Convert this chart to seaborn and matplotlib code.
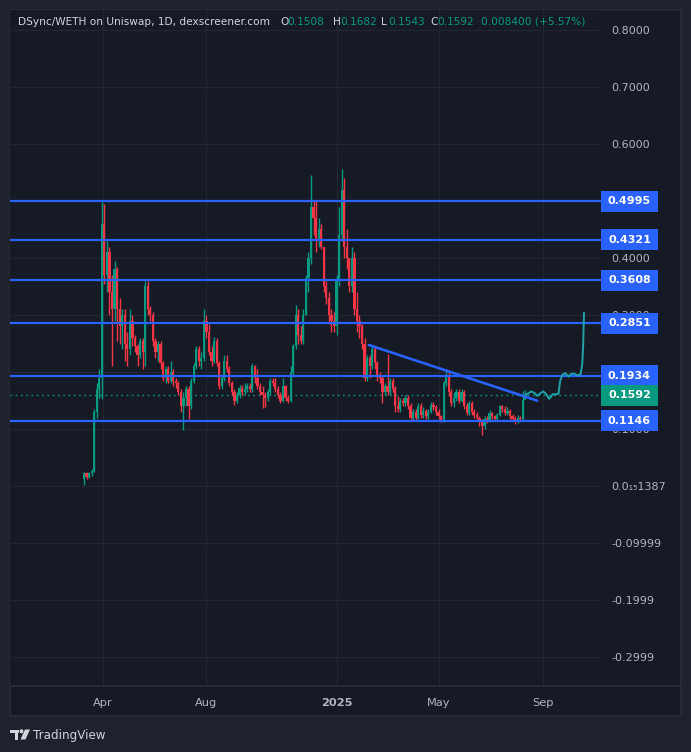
import numpy as np
import pandas as pd
import matplotlib
matplotlib.use("Agg")
import matplotlib.pyplot as plt
import matplotlib.dates as mdates
import matplotlib.patches as mpatches
import matplotlib.lines as mlines
import matplotlib.transforms as mtransforms
import seaborn as sns

# ---------------- data ----------------
title_text = "DSync/WETH on Uniswap, 1D, dexscreener.com"
ohlc_keys = ["O", "H", "L", "C"]
ohlc_vals = ["0.1508", "0.1682", "0.1543", "0.1592"]
change_text = "0.008400 (+5.57%)"

candle_start = "2024-03-10"
candle_end = "2025-08-11"

opens = [0.012, 0.022, 0.016, 0.022, 0.026, 0.130, 0.170, 0.190, 0.460, 0.370,
         0.410, 0.340, 0.310, 0.380, 0.310, 0.280, 0.300, 0.250, 0.240, 0.290,
         0.260, 0.245, 0.230, 0.255, 0.235, 0.350, 0.310, 0.300, 0.255, 0.235,
         0.250, 0.215, 0.190, 0.205, 0.185, 0.200, 0.185, 0.180, 0.165, 0.140,
         0.155, 0.170, 0.140, 0.185, 0.210, 0.240, 0.220, 0.225, 0.290, 0.270,
         0.235, 0.220, 0.255, 0.215, 0.175, 0.190, 0.220, 0.205, 0.180, 0.165,
         0.150, 0.160, 0.172, 0.165, 0.170, 0.175, 0.170, 0.210, 0.190, 0.175,
         0.165, 0.160, 0.155, 0.165, 0.185, 0.180, 0.170, 0.160, 0.150, 0.175,
         0.155, 0.150, 0.200, 0.245, 0.300, 0.265, 0.255, 0.300, 0.365, 0.400,
         0.490, 0.470, 0.430, 0.450, 0.420, 0.350, 0.330, 0.300, 0.290, 0.280,
         0.360, 0.440, 0.520, 0.420, 0.400, 0.350, 0.400, 0.310, 0.290, 0.280,
         0.250, 0.190, 0.225, 0.210, 0.240, 0.215, 0.195, 0.190, 0.165, 0.175,
         0.165, 0.185, 0.170, 0.140, 0.135, 0.150, 0.145, 0.155, 0.140, 0.120,
         0.130, 0.120, 0.140, 0.125, 0.132, 0.122, 0.130, 0.143, 0.138, 0.130,
         0.122, 0.115, 0.180, 0.195, 0.165, 0.145, 0.155, 0.165, 0.150, 0.165,
         0.140, 0.128, 0.145, 0.130, 0.125, 0.120, 0.112, 0.105, 0.118, 0.115,
         0.128, 0.122, 0.118, 0.125, 0.140, 0.135, 0.128, 0.132, 0.122, 0.118,
         0.112, 0.120, 0.117, 0.1508]
highs = [0.025, 0.024, 0.025, 0.030, 0.135, 0.180, 0.205, 0.499, 0.495, 0.430,
         0.420, 0.370, 0.395, 0.385, 0.330, 0.310, 0.310, 0.270, 0.310, 0.300,
         0.265, 0.250, 0.260, 0.260, 0.360, 0.360, 0.315, 0.305, 0.260, 0.255,
         0.255, 0.220, 0.210, 0.210, 0.220, 0.205, 0.190, 0.185, 0.170, 0.165,
         0.175, 0.175, 0.190, 0.215, 0.245, 0.245, 0.235, 0.310, 0.300, 0.285,
         0.245, 0.262, 0.260, 0.220, 0.195, 0.230, 0.230, 0.210, 0.185, 0.170,
         0.165, 0.178, 0.178, 0.180, 0.180, 0.180, 0.215, 0.212, 0.205, 0.180,
         0.175, 0.165, 0.170, 0.190, 0.190, 0.190, 0.175, 0.165, 0.190, 0.178,
         0.160, 0.210, 0.250, 0.317, 0.310, 0.280, 0.310, 0.370, 0.410, 0.546,
         0.500, 0.500, 0.470, 0.460, 0.420, 0.360, 0.340, 0.310, 0.305, 0.370,
         0.490, 0.556, 0.540, 0.450, 0.400, 0.420, 0.410, 0.340, 0.300, 0.285,
         0.260, 0.230, 0.230, 0.247, 0.245, 0.220, 0.200, 0.195, 0.180, 0.232,
         0.190, 0.190, 0.175, 0.158, 0.155, 0.155, 0.160, 0.160, 0.145, 0.135,
         0.135, 0.145, 0.145, 0.138, 0.135, 0.135, 0.147, 0.147, 0.142, 0.135,
         0.125, 0.185, 0.205, 0.200, 0.170, 0.165, 0.170, 0.170, 0.170, 0.168,
         0.145, 0.150, 0.150, 0.135, 0.130, 0.122, 0.118, 0.122, 0.122, 0.133,
         0.130, 0.125, 0.128, 0.143, 0.143, 0.140, 0.138, 0.135, 0.127, 0.122,
         0.124, 0.123, 0.167, 0.1682]
lows = [0.002, 0.012, 0.014, 0.018, 0.024, 0.120, 0.155, 0.152, 0.355, 0.340,
        0.300, 0.210, 0.290, 0.255, 0.250, 0.240, 0.220, 0.210, 0.230, 0.245,
        0.235, 0.210, 0.225, 0.205, 0.210, 0.300, 0.290, 0.245, 0.225, 0.220,
        0.205, 0.185, 0.180, 0.180, 0.180, 0.175, 0.172, 0.160, 0.130, 0.098,
        0.140, 0.118, 0.135, 0.180, 0.205, 0.210, 0.205, 0.220, 0.260, 0.230,
        0.210, 0.215, 0.210, 0.170, 0.170, 0.185, 0.200, 0.175, 0.160, 0.143,
        0.145, 0.155, 0.160, 0.160, 0.165, 0.165, 0.165, 0.180, 0.170, 0.160,
        0.137, 0.138, 0.150, 0.160, 0.175, 0.165, 0.155, 0.145, 0.148, 0.150,
        0.145, 0.148, 0.195, 0.240, 0.250, 0.250, 0.250, 0.300, 0.340, 0.390,
        0.440, 0.410, 0.420, 0.415, 0.340, 0.320, 0.285, 0.270, 0.270, 0.265,
        0.350, 0.430, 0.400, 0.380, 0.340, 0.340, 0.300, 0.270, 0.260, 0.240,
        0.185, 0.185, 0.190, 0.205, 0.205, 0.185, 0.180, 0.145, 0.160, 0.160,
        0.160, 0.165, 0.130, 0.130, 0.130, 0.140, 0.140, 0.135, 0.116, 0.115,
        0.115, 0.118, 0.120, 0.120, 0.118, 0.118, 0.128, 0.133, 0.125, 0.118,
        0.112, 0.112, 0.175, 0.158, 0.140, 0.138, 0.150, 0.145, 0.148, 0.135,
        0.124, 0.125, 0.125, 0.120, 0.118, 0.105, 0.090, 0.100, 0.110, 0.112,
        0.118, 0.114, 0.115, 0.122, 0.130, 0.125, 0.124, 0.118, 0.115, 0.108,
        0.110, 0.114, 0.115, 0.1543]
closes = [0.022, 0.016, 0.022, 0.026, 0.130, 0.170, 0.190, 0.460, 0.370, 0.410,
          0.340, 0.310, 0.380, 0.310, 0.280, 0.300, 0.250, 0.240, 0.290, 0.260,
          0.245, 0.230, 0.255, 0.235, 0.350, 0.310, 0.300, 0.255, 0.235, 0.250,
          0.215, 0.190, 0.205, 0.185, 0.200, 0.185, 0.180, 0.165, 0.140, 0.155,
          0.170, 0.140, 0.185, 0.210, 0.240, 0.220, 0.225, 0.290, 0.270, 0.235,
          0.220, 0.255, 0.215, 0.175, 0.190, 0.220, 0.205, 0.180, 0.165, 0.150,
          0.160, 0.172, 0.165, 0.170, 0.175, 0.170, 0.210, 0.190, 0.175, 0.165,
          0.160, 0.155, 0.165, 0.185, 0.180, 0.170, 0.160, 0.150, 0.175, 0.155,
          0.150, 0.200, 0.245, 0.300, 0.265, 0.255, 0.300, 0.365, 0.400, 0.490,
          0.470, 0.430, 0.450, 0.420, 0.350, 0.330, 0.300, 0.290, 0.280, 0.360,
          0.440, 0.520, 0.420, 0.400, 0.350, 0.400, 0.310, 0.290, 0.280, 0.250,
          0.190, 0.225, 0.210, 0.240, 0.215, 0.195, 0.190, 0.165, 0.175, 0.165,
          0.185, 0.170, 0.140, 0.135, 0.150, 0.145, 0.155, 0.140, 0.120, 0.130,
          0.120, 0.140, 0.125, 0.132, 0.122, 0.130, 0.143, 0.138, 0.130, 0.122,
          0.115, 0.180, 0.195, 0.165, 0.145, 0.155, 0.165, 0.150, 0.165, 0.140,
          0.128, 0.145, 0.130, 0.125, 0.120, 0.112, 0.105, 0.118, 0.115, 0.128,
          0.122, 0.118, 0.125, 0.140, 0.135, 0.128, 0.132, 0.122, 0.118, 0.112,
          0.120, 0.117, 0.1508, 0.1592]

# horizontal levels drawn on the chart
level_values = [0.4995, 0.4321, 0.3608, 0.2851, 0.1934, 0.1146]
level_labels = ["0.4995", "0.4321", "0.3608", "0.2851", "0.1934", "0.1146"]
last_price = 0.1592
last_label = "0.1592"

# descending trendline (date, price)
trend_dates = ["2025-02-08", "2025-08-25"]
trend_prices = [0.2474, 0.1497]

# hand-drawn projection path (date, price)
proj_dates = ["2025-08-11", "2025-08-15", "2025-08-18", "2025-08-22", "2025-08-25",
              "2025-08-29", "2025-09-01", "2025-09-04", "2025-09-08", "2025-09-10",
              "2025-09-12", "2025-09-16", "2025-09-19", "2025-09-21", "2025-09-24",
              "2025-09-27", "2025-10-01", "2025-10-04", "2025-10-08", "2025-10-11",
              "2025-10-15", "2025-10-17", "2025-10-18", "2025-10-19"]
proj_prices = [0.159, 0.163, 0.166, 0.163, 0.158, 0.163, 0.166, 0.162, 0.153, 0.156,
               0.161, 0.161, 0.162, 0.185, 0.196, 0.198, 0.192, 0.197, 0.197, 0.194,
               0.196, 0.215, 0.245, 0.304]

# price-scale ticks (0.5000 and 0.2000 sit fully under level boxes in the reference)
ytick_values = [-0.3, -0.2, -0.1, 0.0, 0.1, 0.3, 0.4, 0.6, 0.7, 0.8]
ytick_labels = ["-0.2999", "-0.1999", "-0.09999", "0.0\u2081\u20851387", "0.1000",
                "0.3000", "0.4000", "0.6000", "0.7000", "0.8000"]
grid_values = [-0.3, -0.2, -0.1, 0.0, 0.1, 0.2, 0.3, 0.4, 0.5, 0.6, 0.7, 0.8]
xtick_dates = ["2024-04-01", "2024-08-01", "2025-01-01", "2025-05-01", "2025-09-01"]
xtick_labels = ["Apr", "Aug", "2025", "May", "Sep"]

# ---------------- style ----------------
BG_OUT = "#1e222d"
BG_IN = "#161a25"
GRID = "#232632"
BORDER = "#2a2e39"
TXT = "#b2b5be"
TITLE = "#d1d4dc"
GREEN = "#089981"
RED = "#f23645"
BLUE = "#2962ff"
PROJ = "#1fa3a8"

sns.set_theme(style="dark", rc={
    "figure.facecolor": BG_OUT,
    "axes.facecolor": BG_IN,
    "axes.edgecolor": BG_IN,
    "grid.color": GRID,
    "xtick.color": TXT,
    "ytick.color": TXT,
})
plt.rcParams["font.family"] = ["DejaVu Sans"]

W, H = 691, 752
fig = plt.figure(figsize=(W / 100, H / 100), dpi=100)
fig.set_facecolor(BG_OUT)

def fx(px):
    return px / W

def fy(py):
    return 1 - py / H

# chart panel (behind the axes)
fig.patches.append(mpatches.Rectangle((fx(10), fy(716)), fx(671), 706 / H,
                                      transform=fig.transFigure, fc=BG_IN,
                                      ec=BORDER, lw=1.2, zorder=-10))
fig.lines.append(mlines.Line2D([fx(10), fx(681)], [fy(685.5), fy(685.5)],
                               transform=fig.transFigure, color=BORDER, lw=1.2, zorder=5))

ax = fig.add_axes([fx(10), fy(685), 591 / W, 675 / H])
ax.set_facecolor(BG_IN)
ax.set_zorder(1)
for s in ax.spines.values():
    s.set_visible(False)

# grid lines
for g in grid_values:
    ax.axhline(g, color=GRID, lw=0.9, zorder=1)
for d in xtick_dates:
    ax.axvline(mdates.date2num(pd.Timestamp(d)), color=GRID, lw=0.9, zorder=1)

dates = pd.date_range(candle_start, candle_end, freq="3D")
o = np.array(opens)
h = np.array(highs)
l = np.array(lows)
c = np.array(closes)
assert len(dates) == len(o) == len(h) == len(l) == len(c)
xd = mdates.date2num(dates)
cols = np.where(c >= o, GREEN, RED)

ax.vlines(xd, l, h, colors=cols, lw=1.0, zorder=3)
body = np.maximum(np.abs(c - o), 0.0015)
ax.bar(xd, body, bottom=np.minimum(o, c), width=2.6, color=cols, lw=0, zorder=3)

for v in level_values:
    ax.axhline(v, color=BLUE, lw=1.6, zorder=4)
ax.axhline(last_price, color=GREEN, lw=1.0, ls=(0, (1.2, 2.6)), zorder=2)

tdf = pd.DataFrame({"date": mdates.date2num(pd.to_datetime(trend_dates)), "price": trend_prices})
sns.lineplot(data=tdf, x="date", y="price", ax=ax, color=BLUE, lw=1.9, zorder=5,
             sort=False, estimator=None)
pdf = pd.DataFrame({"date": mdates.date2num(pd.to_datetime(proj_dates)), "price": proj_prices})
sns.lineplot(data=pdf, x="date", y="price", ax=ax, color=PROJ, lw=1.4, zorder=5,
             sort=False, estimator=None)

ax.set_xlim(mdates.date2num(pd.Timestamp("2023-12-14")), mdates.date2num(pd.Timestamp("2025-11-08")))
ax.set_ylim(-0.349, 0.835)
ax.set_xlabel("")
ax.set_ylabel("")
ax.grid(False)

ax.set_xticks(mdates.date2num(pd.to_datetime(xtick_dates)))
ax.set_xticklabels(xtick_labels)
ax.tick_params(axis="x", length=0, pad=9, labelsize=8.2, labelcolor=TXT)
for t in ax.get_xticklabels():
    if t.get_text() == "2025":
        t.set_fontweight("bold")

ax.yaxis.tick_right()
ax.set_yticks(ytick_values)
ax.set_yticklabels(ytick_labels)
ax.tick_params(axis="y", length=0, pad=7.5, labelsize=8, labelcolor=TXT)

# price label boxes on the right scale
blend = mtransforms.blended_transform_factory(ax.transAxes, ax.transData)
box_x0 = 1.0
box_w = 57 / 591
box_h = 21 / 570
for v, lab, colr in list(zip(level_values, level_labels, [BLUE] * len(level_values))) + [(last_price, last_label, GREEN)]:
    rect = mpatches.Rectangle((box_x0, v - box_h / 2), box_w, box_h, transform=blend,
                              fc=colr, ec="none", clip_on=False, zorder=9)
    ax.add_patch(rect)
    ax.text(box_x0 + box_w / 2, v, lab, transform=blend, color="white", fontsize=8,
            fontweight="bold", ha="center", va="center", clip_on=False, zorder=10)

# header
ty = fy(22)
fig.text(fx(18), ty, title_text, color=TITLE, fontsize=7.6, va="center", ha="left")
key_x = [280, 333, 381, 430]
for k, val, kx in zip(ohlc_keys, ohlc_vals, key_x):
    fig.text(fx(kx), ty, k, color=TITLE, fontsize=7.6, va="center", ha="left")
    fig.text(fx(kx + 7), ty, val, color=GREEN, fontsize=7.6, va="center", ha="left")
fig.text(fx(481), ty, change_text, color=GREEN, fontsize=7.6, va="center", ha="left")

# footer logo
logo_col = "#d1d4dc"
fig.patches.append(mpatches.Rectangle((fx(10), fy(733)), 8.5 / W, 3.5 / H, transform=fig.transFigure,
                                      fc=logo_col, ec="none"))
fig.patches.append(mpatches.Rectangle((fx(14.5), fy(739.5)), 3.8 / W, 10 / H, transform=fig.transFigure,
                                      fc=logo_col, ec="none"))
fig.patches.append(mpatches.Circle((fx(21.5), fy(731.3)), 1.9 / W, transform=fig.transFigure,
                                   fc=logo_col, ec="none"))
fig.patches.append(mpatches.Polygon([(fx(25), fy(729.5)), (fx(30), fy(729.5)), (fx(25.5), fy(739.5)),
                                     (fx(20.5), fy(739.5))], closed=True, transform=fig.transFigure,
                                    fc=logo_col, ec="none"))
fig.text(fx(33), fy(735), "TradingView", color=logo_col, fontsize=8.6, va="center", ha="left")

fig.savefig("out.png", dpi=100, facecolor=BG_OUT)
